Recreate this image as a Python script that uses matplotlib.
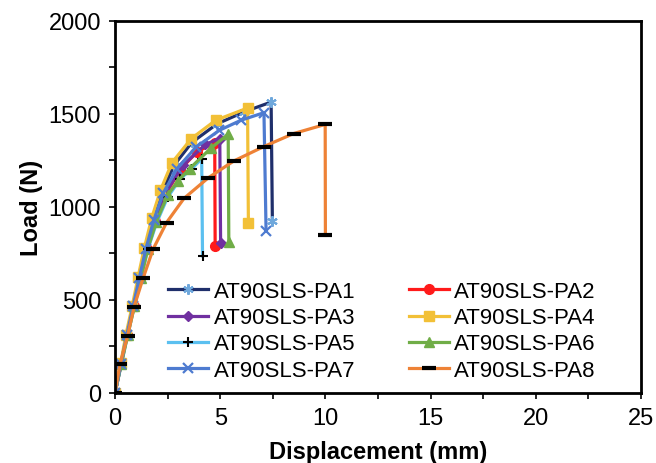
import matplotlib
matplotlib.use("Agg")
import matplotlib.pyplot as plt
from matplotlib.ticker import MultipleLocator

plt.rcParams['font.family'] = ['Liberation Sans', 'DejaVu Sans']

labels = ["AT90SLS-PA1", "AT90SLS-PA2", "AT90SLS-PA3", "AT90SLS-PA4",
          "AT90SLS-PA5", "AT90SLS-PA6", "AT90SLS-PA7", "AT90SLS-PA8"]

pa1_x = [0, 0.28, 0.55, 0.85, 1.14, 1.44, 1.80, 2.24, 2.80, 3.65, 4.85, 6.15, 7.42, 7.48]
pa1_y = [0, 155, 310, 465, 620, 775, 930, 1078, 1222, 1345, 1445, 1510, 1562, 924]
pa2_x = [0, 0.29, 0.58, 0.89, 1.20, 1.52, 1.90, 2.40, 3.10, 3.90, 4.74, 4.76]
pa2_y = [0, 155, 310, 465, 620, 775, 925, 1065, 1200, 1295, 1344, 790]
pa3_x = [0, 0.29, 0.57, 0.88, 1.18, 1.50, 1.88, 2.36, 3.23, 4.30, 4.98, 5.02]
pa3_y = [0, 155, 310, 465, 620, 775, 925, 1068, 1222, 1335, 1366, 804]
pa4_x = [0, 0.27, 0.52, 0.82, 1.10, 1.39, 1.74, 2.16, 2.71, 3.63, 4.78, 6.30, 6.34]
pa4_y = [0, 159, 313, 468, 624, 777, 937, 1088, 1237, 1366, 1464, 1530, 911]
pa5_x = [0, 0.30, 0.60, 0.92, 1.24, 1.57, 1.98, 2.50, 3.10, 3.66, 4.12, 4.16]
pa5_y = [0, 155, 310, 465, 620, 775, 915, 1050, 1150, 1205, 1258, 736]
pa6_x = [0, 0.30, 0.60, 0.92, 1.24, 1.56, 1.96, 2.50, 3.00, 3.55, 4.58, 5.38, 5.41]
pa6_y = [0, 155, 310, 465, 620, 775, 920, 1062, 1140, 1205, 1317, 1389, 813]
pa7_x = [0, 0.28, 0.56, 0.86, 1.16, 1.47, 1.85, 2.30, 2.95, 3.85, 4.95, 6.00, 7.08, 7.18]
pa7_y = [0, 155, 310, 465, 620, 775, 930, 1075, 1205, 1320, 1410, 1465, 1505, 872]
pa8_x = [0, 0.24, 0.60, 0.91, 1.34, 1.81, 2.45, 3.28, 4.44, 5.65, 7.07, 8.49, 9.99, 10.0]
pa8_y = [0, 155, 307, 464, 618, 772, 915, 1045, 1156, 1246, 1323, 1393, 1442, 846]

xs = [pa1_x, pa2_x, pa3_x, pa4_x, pa5_x, pa6_x, pa7_x, pa8_x]
ys = [pa1_y, pa2_y, pa3_y, pa4_y, pa5_y, pa6_y, pa7_y, pa8_y]

styles = [
    dict(color="#1F2F6B", marker=(6, 2, 0), mfc="#6FA8DC", mec="#6FA8DC", ms=7.5, mew=1.5),
    dict(color="#FF1A1A", marker="o", mfc="#FF1A1A", mec="#FF1A1A", ms=7, mew=1),
    dict(color="#7030A0", marker="D", mfc="#7030A0", mec="#7030A0", ms=5.5, mew=1),
    dict(color="#F2C037", marker="s", mfc="#F2C037", mec="#F2C037", ms=7, mew=1),
    dict(color="#5BC0F0", marker="+", mfc="black", mec="black", ms=7.5, mew=1.5),
    dict(color="#70AD47", marker="^", mfc="#70AD47", mec="#70AD47", ms=7, mew=1),
    dict(color="#4E7BD0", marker="x", mfc="#4E7BD0", mec="#4E7BD0", ms=7.5, mew=1.6),
    dict(color="#EE8236", marker="_", mfc="black", mec="black", ms=9.5, mew=3),
]

fig = plt.figure(figsize=(6.56, 4.64), dpi=100)
ax = fig.add_axes([115/656, 1 - 394/464, (641 - 115)/656, (394 - 21.5)/464])

handles = []
for x, y, lab, st in zip(xs, ys, labels, styles):
    h, = ax.plot(x, y, label=lab, linewidth=2.3, **st)
    handles.append(h)

ax.set_xlim(0, 25)
ax.set_ylim(0, 2000)
ax.xaxis.set_major_locator(MultipleLocator(5))
ax.xaxis.set_minor_locator(MultipleLocator(2.5))
ax.yaxis.set_major_locator(MultipleLocator(500))
ax.yaxis.set_minor_locator(MultipleLocator(250))
ax.tick_params(which="both", direction="out", width=1.2, top=False, right=False,
               labelsize=17, pad=6)
ax.tick_params(which="major", length=4)
ax.tick_params(which="minor", length=4)
for s in ax.spines.values():
    s.set_linewidth(2)
    s.set_color("black")

ax.set_xlabel("Displacement (mm)", fontsize=17, fontweight="bold", labelpad=8)
ax.set_ylabel("Load (N)", fontsize=17, fontweight="bold", labelpad=4)

# legend filled row by row: PA1 PA2 / PA3 PA4 / ...
order = [0, 2, 4, 6, 1, 3, 5, 7]
ax.legend([handles[i] for i in order], [labels[i] for i in order],
          ncol=2, loc="upper left", bbox_to_anchor=(0.101, 0.30), frameon=False,
          fontsize=16, handlelength=1.8, handletextpad=0.25, columnspacing=2.4,
          labelspacing=0.23, borderaxespad=0, borderpad=0)

fig.savefig("out.png", dpi=100)
